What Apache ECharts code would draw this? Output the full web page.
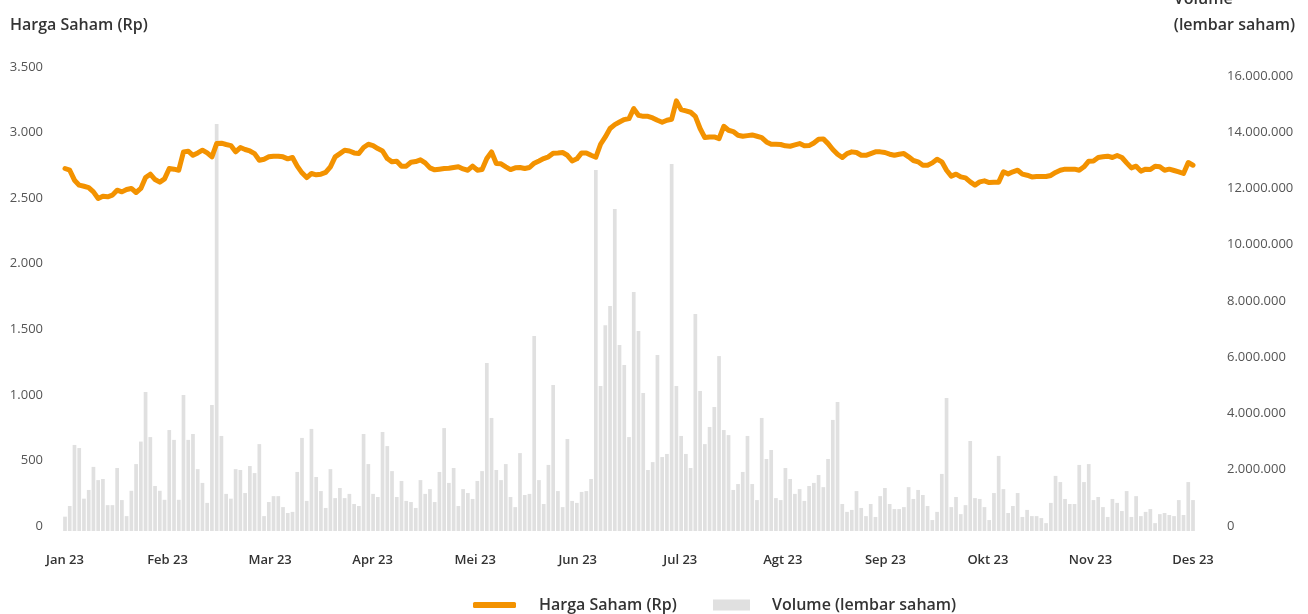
<!DOCTYPE html>
<html>
<head>
<meta charset="utf-8">
<script src="https://cdn.jsdelivr.net/npm/echarts@6/dist/echarts.min.js"></script>
<style>
html,body{margin:0;padding:0;background:#fff;}
#chart{width:1308px;height:614px;}
</style>
</head>
<body>
<div id="chart"></div>
<script>
// Month tick labels (evenly spaced along the axis)
const monthLabels = ['Jan 23','Feb 23','Mar 23','Apr 23','Mei 23','Jun 23','Jul 23','Agt 23','Sep 23','Okt 23','Nov 23','Des 23'];

// Daily closing price (Rp)
const price = [
2764,2751,2675,2637,2629,2619,2586,2536,2553,2548,
2561,2599,2586,2604,2612,2581,2612,2695,2721,2680,
2660,2685,2764,2759,2751,2891,2896,2865,2883,2904,
2883,2853,2954,2957,2947,2939,2891,2924,2909,2898,
2878,2827,2835,2853,2858,2858,2853,2838,2848,2782,
2731,2695,2726,2716,2721,2734,2777,2853,2878,
2904,2898,2883,2878,2924,2949,2939,2916,2898,2840,
2815,2820,2782,2782,2812,2817,2830,2807,2769,2754,
2759,2764,2766,2772,2777,2761,2751,2782,2751,2756,
2840,2890,2802,2800,2777,2756,2769,2772,2764,2772,
2805,2822,2840,2853,2881,2883,2886,2865,2822,2838,
2883,2883,2865,2850,2949,3005,3069,3099,3119,3137,3145,
3221,3170,3162,3162,3150,3132,3117,3132,3140,3280,
3213,3203,3193,3162,3069,3000,3005,3005,2992,3086,
3056,3046,3018,3010,3015,3020,3010,3000,2967,2949,
2949,2947,2937,2934,2944,2954,2937,2939,2959,2987,
2990,2954,2909,2873,2848,2878,2891,2886,2865,2865,
2878,2891,2891,2886,2873,2865,2873,
2878,2853,2825,2815,2789,2789,2807,2835,2815,2751,
2706,2721,2700,2693,2662,2637,2662,2670,2657,2660,
2660,2739,2723,2739,2751,2721,2713,2700,2703,2703,
2703,2711,2734,2751,2759,2759,2759,2751,2777,2820,
2822,2848,2853,2858,2848,2863,2848,2807,2769,2782,
2744,2759,2756,2782,2777,2751,2759,2749,2739,2726,
2810,2789
];

// Daily volume, millions of shares
const volumeMillions = [
0.51,0.89,3.06,2.95,1.15,1.46,2.28,1.81,1.85,0.92,
0.92,2.24,1.10,0.53,1.43,2.38,3.18,4.94,3.34,1.60,
1.43,1.11,3.59,3.24,1.11,4.84,3.24,3.45,2.20,1.71,
1.00,4.48,14.47,3.38,1.32,1.15,2.20,2.17,1.35,2.31,
2.06,3.09,0.53,1.03,1.24,1.24,0.85,0.64,0.68,2.10,
3.31,1.07,3.63,1.92,1.42,0.82,2.20,1.17,1.53,
1.17,1.32,0.96,0.89,3.45,2.38,1.32,1.21,3.52,3.02,
2.13,1.21,1.78,1.07,1.03,0.82,1.81,1.32,1.49,1.03,
2.10,3.66,1.71,2.24,0.89,1.49,1.35,1.14,1.78,2.13,
5.97,4.02,2.17,1.81,2.38,1.21,0.85,2.77,1.28,1.32,
6.93,1.81,0.96,2.35,5.19,1.42,0.85,3.27,1.07,1.00,
1.39,1.42,1.85,12.84,5.16,7.32,8.00,11.45,6.61,5.90,
3.34,
8.50,7.11,4.91,2.17,2.45,6.26,2.63,2.74,13.05,5.16,
3.38,2.74,2.24,7.72,4.98,3.09,3.70,4.41,6.22,3.59,
3.41,1.46,1.67,2.10,3.38,1.67,1.10,4.02,2.56,2.88,
1.17,1.10,2.24,1.85,1.32,1.49,1.07,1.60,1.71,1.99,
1.56,2.56,3.95,4.59,0.96,0.68,0.75,1.42,0.82,0.53,
0.96,0.50,1.24,1.53,0.96,0.78,0.78,
0.85,1.56,1.14,1.46,1.28,0.89,0.39,0.68,2.03,4.73,
0.85,1.21,0.60,0.92,3.20,1.17,1.14,0.85,0.39,1.35,
2.67,1.49,0.64,0.89,1.35,0.50,0.75,0.53,0.53,0.46,
0.28,1.00,1.96,1.74,1.14,0.96,0.96,2.35,1.74,2.38,
1.10,1.21,0.85,0.50,1.14,1.00,0.71,1.42,0.50,1.24,
0.53,0.68,0.78,0.28,0.60,0.64,0.57,0.53,1.10,0.57,
1.74,1.10
];

const volume = volumeMillions.map(v => Math.round(v * 1e6));
const days = price.map((_, i) => 'd' + i);

const FONT = '"Open Sans", "Noto Sans", sans-serif';
const fmt = v => String(Math.round(v)).replace(/\B(?=(\d{3})+(?!\d))/g, '.');

const chart = echarts.init(document.getElementById('chart'), null, {renderer: 'canvas'});
chart.setOption({
  animation: false,
  backgroundColor: '#ffffff',
  textStyle: {fontFamily: FONT},
  grid: {left: 65, right: 115, top: 72, bottom: 83, containLabel: false},
  xAxis: [
    {
      type: 'category', data: days, boundaryGap: false,
      axisLine: {show: false}, axisTick: {show: false}, axisLabel: {show: false}, splitLine: {show: false}
    },
    {
      type: 'value', min: 0, max: monthLabels.length - 1, interval: 1, position: 'bottom',
      axisLine: {show: false}, axisTick: {show: false}, splitLine: {show: false},
      axisLabel: {
        formatter: v => monthLabels[v] || '',
        margin: 23, fontSize: 13, fontWeight: 600, color: '#333', fontFamily: FONT
      }
    }
  ],
  yAxis: [
    {
      type: 'value', min: 0, max: 3500, interval: 500, position: 'left',
      axisLine: {show: false}, axisTick: {show: false}, splitLine: {show: false},
      axisLabel: {formatter: fmt, margin: 22, fontSize: 13, color: '#555', fontFamily: FONT,
        verticalAlign: 'bottom', lineHeight: 10}
    },
    {
      type: 'value', min: 0, max: 16320000, interval: 2000000, position: 'right',
      axisLine: {show: false}, axisTick: {show: false}, splitLine: {show: false},
      axisLabel: {formatter: fmt, margin: 34, fontSize: 13, color: '#555', fontFamily: FONT,
        showMaxLabel: false, verticalAlign: 'bottom', lineHeight: 10}
    }
  ],
  legend: [
    {
      data: [{name: 'Harga Saham (Rp)', icon: 'roundRect'}],
      left: 468, top: 592, itemWidth: 43, itemHeight: 6, selectedMode: false,
      textStyle: {fontSize: 16, fontWeight: 600, color: '#333', fontFamily: FONT, padding: [0, 0, 0, 18]}
    },
    {
      data: [{name: 'Volume (lembar saham)', icon: 'rect'}],
      left: 708, top: 592, itemWidth: 37, itemHeight: 11, selectedMode: false,
      textStyle: {fontSize: 16, fontWeight: 600, color: '#333', fontFamily: FONT, padding: [0, 0, 0, 17]}
    }
  ],
  graphic: [
    {type: 'text', left: 10, top: 17, style: {text: 'Harga Saham (Rp)', fontSize: 16, fontWeight: 600, fontFamily: FONT, fill: '#333'}},
    {type: 'text', right: 13, top: -14, style: {text: 'Volume\n(lembar saham)', fontSize: 16, fontWeight: 600, fontFamily: FONT, fill: '#333', align: 'right', lineHeight: 26}}
  ],
  series: [
    {
      name: 'Volume (lembar saham)', type: 'bar', xAxisIndex: 0, yAxisIndex: 1,
      data: volume, barWidth: 3.7, itemStyle: {color: '#e0e0e0'}, z: 1
    },
    {
      name: 'Harga Saham (Rp)', type: 'line', xAxisIndex: 0, yAxisIndex: 0,
      data: price, showSymbol: false, symbol: 'none', smooth: false,
      lineStyle: {width: 5, color: '#f39200', cap: 'round', join: 'round'},
      itemStyle: {color: '#f39200'}, z: 3
    }
  ]
});
</script>
</body>
</html>
